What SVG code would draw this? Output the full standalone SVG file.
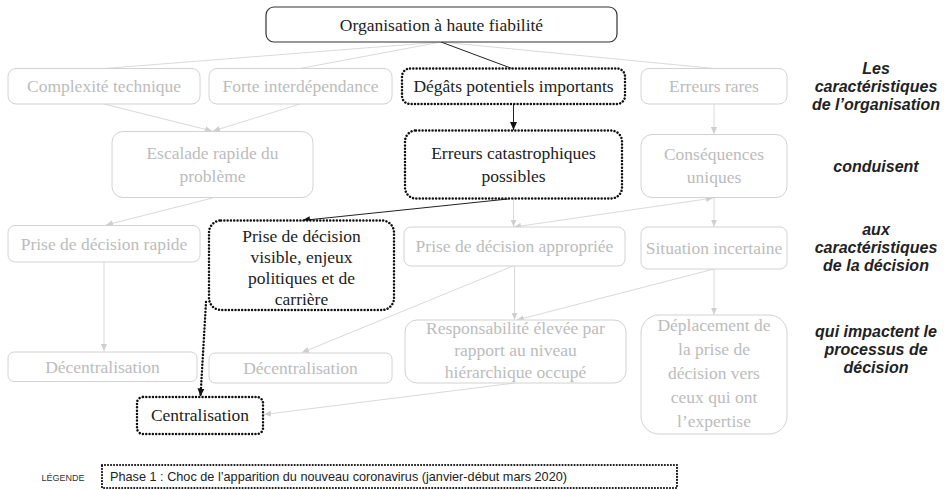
<svg xmlns="http://www.w3.org/2000/svg" width="947" height="490" viewBox="0 0 947 490">
<defs>
<style>
.g rect{fill:#fff;stroke:#d2d2d2;stroke-width:1}
.g text{fill:#bcbcbc}
.d rect{fill:#fff;stroke:#111;stroke-width:2.5;stroke-dasharray:0.01 3.3;stroke-linecap:round}
.d text,.k text{fill:#222}
.k rect{fill:#fff;stroke:#333;stroke-width:1.2}
text{font-family:"Liberation Serif","Times New Roman",serif;font-size:17.5px;text-anchor:middle}
.lab{font-family:"Liberation Sans",Arial,sans-serif;font-weight:bold;font-style:italic;font-size:16px;fill:#222}
.cg{stroke:#dadada;stroke-width:1;fill:none}
.cb{stroke:#222;stroke-width:1;fill:none}
.cd{stroke:#111;stroke-width:2.5;stroke-dasharray:0.01 3.3;stroke-linecap:round;fill:none}
</style>
<marker id="ag" viewBox="0 0 8 8" refX="8" refY="4" markerWidth="7" markerHeight="7" markerUnits="userSpaceOnUse" orient="auto-start-reverse"><path d="M0,0.5 L8,4 L0,7.5 z" fill="#cfcfcf"/></marker>
<marker id="ab" viewBox="0 0 8 8" refX="8" refY="4" markerWidth="8" markerHeight="8" markerUnits="userSpaceOnUse" orient="auto"><path d="M0,0.5 L8,4 L0,7.5 z" fill="#111"/></marker>
</defs>
<rect width="947" height="490" fill="#fff"/>

<g id="connectors">
<line class="cg" x1="441" y1="42" x2="104" y2="68.5"/>
<line class="cg" x1="441" y1="42" x2="300" y2="68.5"/>
<line class="cg" x1="441" y1="42" x2="714" y2="68.5"/>
<line class="cb" x1="441" y1="42" x2="512" y2="68.5"/>
<line class="cb" x1="513.5" y1="104" x2="513.5" y2="130" marker-end="url(#ab)"/>
<line class="cg" x1="714" y1="104" x2="714" y2="134" marker-end="url(#ag)"/>
<line class="cg" x1="104" y1="104" x2="212" y2="131" marker-end="url(#ag)"/>
<line class="cg" x1="300" y1="104" x2="213" y2="131" marker-end="url(#ag)"/>
<line class="cg" x1="212.5" y1="198" x2="106" y2="225" marker-end="url(#ag)"/>
<line class="cg" x1="104" y1="262" x2="104" y2="351" marker-end="url(#ag)"/>
<line class="cb" x1="508" y1="199" x2="302" y2="220.5" marker-end="url(#ab)"/>
<line class="cg" x1="513.5" y1="199" x2="513.5" y2="226.5" marker-end="url(#ag)"/>
<line class="cg" x1="514" y1="227" x2="713" y2="198" marker-start="url(#ag)" marker-end="url(#ag)"/>
<line class="cg" x1="714" y1="198" x2="714" y2="226.5" marker-end="url(#ag)"/>
<line class="cg" x1="514.5" y1="266" x2="514.5" y2="319.5" marker-end="url(#ag)"/>
<line class="cg" x1="714" y1="269" x2="517" y2="320" marker-end="url(#ag)"/>
<line class="cg" x1="714" y1="269" x2="714" y2="314.5" marker-end="url(#ag)"/>
<line class="cg" x1="513" y1="266" x2="302" y2="352.5" marker-end="url(#ag)"/>
<line class="cg" x1="515" y1="383" x2="264" y2="414.5" marker-end="url(#ag)"/>
<line class="cd" x1="206" y1="302" x2="200.5" y2="396.5" marker-end="url(#ab)"/>
</g>

<g id="n-organisation" class="k"><rect x="266" y="7" width="351" height="35" rx="8"/><text x="441.5" y="30.5">Organisation à haute fiabilité</text></g>

<g id="n-complexite" class="g"><rect x="8" y="68.5" width="192" height="35.5" rx="8"/><text x="104" y="92">Complexité technique</text></g>
<g id="n-forte" class="g"><rect x="209" y="68.5" width="183" height="35.5" rx="8"/><text x="300.5" y="92">Forte interdépendance</text></g>
<g id="n-degats" class="d"><rect x="402" y="68.5" width="223" height="35.5" rx="8"/><text x="513.5" y="92">Dégâts potentiels importants</text></g>
<g id="n-erreurs-rares" class="g"><rect x="641" y="68.5" width="146" height="35.5" rx="8"/><text x="714" y="92">Erreurs rares</text></g>

<g id="n-escalade" class="g"><rect x="112" y="131.5" width="201" height="66" rx="11"/><text x="212.5" y="159">Escalade rapide du</text><text x="212.5" y="182">problème</text></g>
<g id="n-erreurs-cata" class="d"><rect x="405" y="130.5" width="217" height="68" rx="11"/><text x="513.5" y="159">Erreurs catastrophiques</text><text x="513.5" y="182">possibles</text></g>
<g id="n-consequences" class="g"><rect x="641" y="134.5" width="146" height="63" rx="11"/><text x="714" y="160">Conséquences</text><text x="714" y="183">uniques</text></g>

<g id="n-prise-rapide" class="g"><rect x="8" y="225.5" width="192" height="36.5" rx="7"/><text x="104" y="250">Prise de décision rapide</text></g>
<g id="n-prise-visible" class="d"><rect x="209" y="220.5" width="185" height="89.5" rx="12"/><text x="301.5" y="242">Prise de décision</text><text x="301.5" y="263">visible, enjeux</text><text x="301.5" y="284">politiques et de</text><text x="301.5" y="305">carrière</text></g>
<g id="n-prise-appropriee" class="g"><rect x="404" y="227" width="221" height="39" rx="7"/><text x="514.5" y="252">Prise de décision appropriée</text></g>
<g id="n-situation" class="g"><rect x="641" y="227" width="146" height="42" rx="7"/><text x="714" y="254">Situation incertaine</text></g>

<g id="n-decentralisation-1" class="g"><rect x="8" y="352" width="189" height="29.5" rx="6"/><text x="102.5" y="373">Décentralisation</text></g>
<g id="n-decentralisation-2" class="g"><rect x="209" y="353" width="183" height="30" rx="6"/><text x="300.5" y="374">Décentralisation</text></g>
<g id="n-responsabilite" class="g"><rect x="405" y="320" width="221" height="63" rx="12"/><text x="515.5" y="334">Responsabilité élevée par</text><text x="515.5" y="356">rapport au niveau</text><text x="515.5" y="378">hiérarchique occupé</text></g>
<g id="n-deplacement" class="g"><rect x="641" y="315" width="146" height="119" rx="18"/><text x="714" y="331">Déplacement de</text><text x="714" y="355">la prise de</text><text x="714" y="379">décision vers</text><text x="714" y="403">ceux qui ont</text><text x="714" y="427">l’expertise</text></g>
<g id="n-centralisation" class="d"><rect x="137" y="397" width="126" height="37" rx="6"/><text x="200" y="421">Centralisation</text></g>

<g id="labels">
<text class="lab" x="876" y="73.5">Les</text>
<text class="lab" x="876" y="91.5">caractéristiques</text>
<text class="lab" x="876" y="109.5">de l’organisation</text>
<text class="lab" x="876" y="172">conduisent</text>
<text class="lab" x="876" y="235">aux</text>
<text class="lab" x="876" y="253">caractéristiques</text>
<text class="lab" x="876" y="271">de la décision</text>
<text class="lab" x="876" y="337">qui impactent le</text>
<text class="lab" x="876" y="355">processus de</text>
<text class="lab" x="876" y="373">décision</text>
</g>

<g id="legend">
<text x="63" y="481" style="font-family:'Liberation Sans',Arial,sans-serif;font-size:9px;fill:#333">LÉGENDE</text>
<rect x="102" y="465" width="575" height="23" fill="#fff" style="stroke:#111;stroke-width:2.2;stroke-dasharray:0.01 3;stroke-linecap:round"/>
<text x="110" y="481" style="font-family:'Liberation Sans',Arial,sans-serif;font-size:12.7px;fill:#222;text-anchor:start">Phase 1 : Choc de l’apparition du nouveau coronavirus (janvier-début mars 2020)</text>
</g>
</svg>
